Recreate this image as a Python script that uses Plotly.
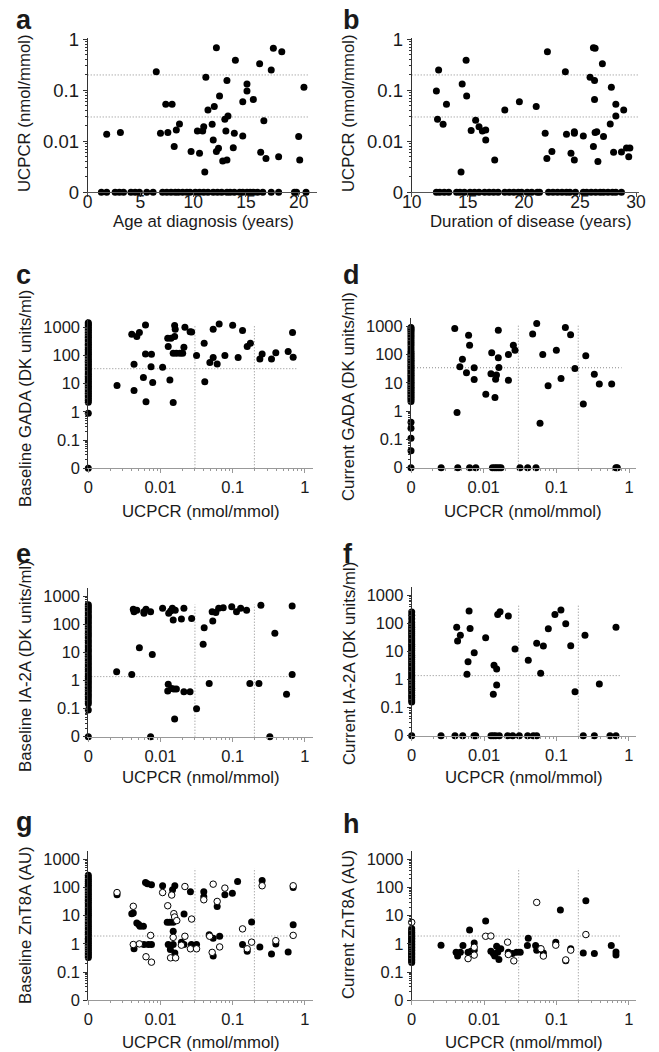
import plotly.graph_objects as go

# ---------------- data (0 = undetectable, drawn on the "0" break position) ----------------
# a: age at diagnosis vs UCPCR
A_AGE = [1.8, 3.1, 6.5, 6.9, 7.4, 7.6, 8.0, 8.2, 8.4, 8.7, 9.8, 10.4, 10.6, 10.9, 11.0, 11.1, 11.2, 11.4, 11.8, 11.9,
         12.0, 12.2, 12.2, 12.4, 12.5, 12.8, 13.0, 13.1, 13.2, 13.2, 13.3, 13.8, 13.9, 14.0, 14.7, 14.7, 15.1, 15.1, 15.7, 16.3,
         16.4, 16.7, 16.9, 17.4, 17.6, 18.1, 18.4, 20.0, 20.1, 20.5]
A_UCPCR = [0.0137, 0.0148, 0.232, 0.0144, 0.053, 0.0148, 0.053, 0.0079, 0.0167, 0.0219, 0.0063, 0.016, 0.0058, 0.016, 0.0194, 0.0025, 0.18, 0.041, 0.0215, 0.0106,
           0.048, 0.687, 0.0063, 0.0073, 0.077, 0.0041, 0.027, 0.016, 0.0043, 0.155, 0.0314, 0.0075, 0.0144, 0.39, 0.06, 0.0127, 0.097, 0.133, 0.066, 0.33,
           0.0061, 0.0254, 0.0046, 0.25, 0.667, 0.005, 0.573, 0.0124, 0.0043, 0.115]
A_AGE_UNDETECTABLE = [1.3, 1.8, 2.6, 3.0, 3.4, 4.1, 4.5, 4.9, 5.6, 6.2, 7.1, 7.5, 7.9, 8.3, 8.6, 9.0, 9.4, 9.7, 10.2, 10.6,
                      11.0, 11.4, 11.9, 12.3, 12.7, 13.2, 13.5, 13.9, 14.4, 14.7, 15.1, 15.4, 15.7, 16.1, 16.6, 17.4, 18.1, 19.6, 19.8, 20.7]

# b: duration of disease vs UCPCR
B_DUR = [12.2, 12.4, 12.3, 12.8, 13.1, 14.4, 14.5, 14.85, 14.9, 15.3, 15.7, 16.0, 16.3, 16.6, 16.6, 17.4, 18.3, 19.6, 21.1, 21.9,
         22.05, 22.1, 22.5, 23.7, 23.8, 24.2, 24.5, 24.5, 24.5, 25.3, 25.9, 26.2, 26.2, 26.35, 26.3, 26.3, 26.35, 26.5, 26.6, 27.0,
         27.1, 27.7, 27.8, 28.0, 28.2, 28.2, 28.9, 28.7, 29.15, 29.45, 29.35]
B_UCPCR = [0.097, 0.25, 0.027, 0.0215, 0.053, 0.0025, 0.133, 0.39, 0.077, 0.0162, 0.026, 0.0194, 0.016, 0.0167, 0.0106, 0.0043, 0.041, 0.06, 0.048, 0.0144,
           0.0046, 0.573, 0.0063, 0.232, 0.0137, 0.0058, 0.0144, 0.0154, 0.0043, 0.0127, 0.18, 0.0079, 0.687, 0.667, 0.155, 0.066, 0.0148, 0.0154, 0.004, 0.33,
           0.0124, 0.0219, 0.115, 0.0061, 0.053, 0.0314, 0.041, 0.0062, 0.0074, 0.0074, 0.005]
B_DUR_UNDETECTABLE = [12.2, 12.5, 12.9, 13.3, 14.0, 14.3, 14.7, 15.2, 15.6, 16.0, 16.5, 16.9, 17.3, 17.7, 18.3, 18.7, 19.1, 19.5, 19.8, 20.3,
                      20.7, 21.2, 21.4, 22.2, 22.6, 23.0, 23.4, 23.8, 24.1, 24.6, 25.3, 25.6, 26.0, 26.4, 26.8, 27.1, 27.5, 27.9, 28.2, 28.7]

# c: UCPCR vs baseline GADA
C_UCPCR = [0.0025, 0.004, 0.0043, 0.0043, 0.0047, 0.0051, 0.0058, 0.0062, 0.0063, 0.0062, 0.0074, 0.0075, 0.0078, 0.0107, 0.0126, 0.0128, 0.0135, 0.014, 0.015, 0.015,
           0.0157, 0.0157, 0.016, 0.0166, 0.0186, 0.0203, 0.0211, 0.0218, 0.0257, 0.027, 0.0316, 0.0403, 0.0411, 0.0483, 0.0537, 0.0537, 0.061, 0.065, 0.078, 0.1,
           0.119, 0.137, 0.159, 0.176, 0.238, 0.256, 0.345, 0.396, 0.587, 0.675, 0.689]
C_GADA = [8.6, 560, 5.7, 49, 470, 650, 16.4, 1200, 2.3, 113, 40, 110, 11, 38, 408, 206, 13.5, 408, 2.14, 120,
          1145, 470, 850, 120, 120, 120, 195, 1000, 700, 680, 100, 270, 11.8, 56, 84, 850, 50, 1310, 100, 1180,
          84, 760, 206, 270, 75, 113, 75, 126, 137, 650, 86]
C_GADA_AT_UCPCR0 = [0, 0.9, 2.2, 2.6, 3.0, 3.5, 4.0, 4.6, 5.3, 6.1, 7.0, 8.0, 9.2, 10.5, 12, 14, 16, 18.5, 21, 24, 28, 32, 37, 42, 48,
                    55, 63, 72, 83, 95, 110, 125, 145, 165, 190, 220, 250, 290, 330, 380, 440, 500, 580, 660, 760, 870, 1000, 1150, 1300, 1450]

# d: UCPCR vs current GADA
D_UCPCR = [0.0040, 0.0047, 0.0051, 0.0043, 0.0058, 0.0062, 0.0064, 0.0074, 0.0074, 0.0107, 0.0129, 0.0126, 0.0143, 0.0146, 0.015, 0.0159, 0.0159, 0.0162, 0.0219, 0.0219,
           0.0256, 0.027, 0.0472, 0.0537, 0.0596, 0.065, 0.077, 0.1, 0.116, 0.133, 0.157, 0.18, 0.235, 0.254, 0.333, 0.39, 0.577]
D_GADA = [830, 36.7, 68, 0.9, 22.5, 480, 214, 13, 34, 3.9, 115, 21, 3.0, 13.4, 18.7, 720, 76, 35, 12.4, 100,
          214, 142, 525, 1240, 0.37, 100, 7.8, 142, 14.2, 900, 500, 32, 1.77, 90, 20, 9, 9]
D_UCPCR_AT_GADA0 = [0.0026, 0.0044, 0.0064, 0.0078, 0.0132, 0.0142, 0.0151, 0.0162, 0.0173, 0.0316, 0.0403, 0.0525, 0.66, 0.69]
D_GADA_AT_UCPCR0 = [0, 0.04, 0.11, 0.25, 0.4, 2.2, 2.6, 3.0, 3.5, 4.0, 4.6, 5.3, 6.1, 7.0, 8.0, 9.2, 10.5, 12, 14, 16, 18.5, 21, 24,
                    28, 32, 37, 42, 48, 55, 63, 72, 83, 95, 110, 130, 160, 200, 240, 290, 350, 420, 500, 600, 700, 800, 900]

# e: UCPCR vs baseline IA-2A
E_UCPCR = [0.00247, 0.004, 0.0042, 0.0043, 0.0047, 0.0051, 0.0059, 0.0063, 0.0059, 0.0073, 0.0077, 0.0073, 0.0107, 0.0126, 0.0128, 0.013, 0.0138, 0.0142, 0.0146, 0.015,
           0.0153, 0.0157, 0.016, 0.0166, 0.0195, 0.0211, 0.0211, 0.0257, 0.027, 0.0316, 0.0403, 0.039, 0.0473, 0.052, 0.053, 0.0585, 0.064, 0.074, 0.097, 0.113,
           0.129, 0.156, 0.173, 0.231, 0.246, 0.327, 0.384, 0.557, 0.667, 0.667]
E_IA2A = [2.1, 1.68, 353, 290, 330, 15, 290, 353, 254, 290, 8.7, 0, 383, 0.43, 0.74, 254, 308, 0.53, 383, 147,
          0.51, 0.043, 330, 0.51, 160, 383, 0.40, 0.40, 168, 0.1, 78, 19.9, 0.8, 290, 135, 275, 383, 405, 440, 290,
          383, 330, 0.8, 0.8, 500, 0, 49, 0.33, 1.68, 464]
E_IA2A_AT_UCPCR0 = [0, 0.09, 0.15, 0.18, 0.22, 0.27, 0.33, 0.4, 0.48, 0.58, 0.7, 0.85, 1.0, 1.2, 1.45, 1.75, 2.1, 2.5, 3.0, 3.6, 4.3, 5.2,
                    6.2, 7.5, 9, 11, 13, 16, 19, 23, 28, 34, 41, 50, 60, 72, 87, 105, 125, 150, 180, 215, 260, 310, 370, 440, 520]

# f: UCPCR vs current IA-2A
F_UCPCR = [0.00418, 0.0043, 0.0047, 0.0058, 0.006, 0.0062, 0.0064, 0.0073, 0.0105, 0.0134, 0.0137, 0.0149, 0.0149, 0.0154, 0.0166, 0.0216, 0.0267, 0.0407, 0.0532, 0.0658,
           0.0604, 0.077, 0.095, 0.115, 0.134, 0.157, 0.18, 0.247, 0.39, 0.662]
F_IA2A = [74, 24, 39, 1.55, 4.4, 283, 68, 9.2, 31.6, 0.3, 3.3, 2.4, 0.65, 215, 268, 187, 12.4, 5, 20, 15.9,
          1.7, 66, 215, 308, 100, 16.4, 0.37, 39, 0.7, 74]
F_UCPCR_AT_IA2A0 = [0.00254, 0.00396, 0.00506, 0.00726, 0.00765, 0.01245, 0.0134, 0.01444, 0.0162, 0.0211, 0.0248, 0.0306, 0.0399,
                    0.0478, 0.0532, 0.234, 0.333, 0.547, 0.662]
F_IA2A_AT_UCPCR0 = [0, 0.16, 0.19, 0.23, 0.28, 0.34, 0.42, 0.5, 0.6, 0.72, 0.87, 1.05, 1.25, 1.5, 1.8, 2.2, 2.6, 3.1, 3.7, 4.4, 5.3,
                    6.3, 7.5, 9, 11, 13, 15.5, 18.5, 22, 26, 31, 37, 44, 52, 62, 75, 90, 110, 150, 200, 260]

# g: UCPCR vs baseline ZnT8A (filled / open circles)
G_FILLED_UCPCR = [0.0025, 0.004, 0.0042, 0.0047, 0.005, 0.0052, 0.0058, 0.0043, 0.0059, 0.0062, 0.0066, 0.0075, 0.0068, 0.0075, 0.0107, 0.0124, 0.0135, 0.015, 0.0147, 0.0158,
                  0.015, 0.0128, 0.0137, 0.015, 0.0158, 0.0195, 0.0212, 0.0212, 0.026, 0.0268, 0.0316, 0.0398, 0.0398, 0.0473, 0.0537, 0.0537, 0.061, 0.066, 0.078, 0.099,
                  0.117, 0.137, 0.159, 0.183, 0.238, 0.256, 0.345, 0.396, 0.587, 0.689, 0.689]
G_FILLED_ZNT8A = [55, 11.8, 12.4, 5.5, 4.9, 4.2, 4.2, 0.67, 0.95, 150, 135, 124, 0.95, 0.95, 115, 5.8, 5.9, 5.8, 83, 115,
                  2.8, 0.95, 0.63, 0.95, 0.48, 1.15, 11.5, 0.95, 71, 0.95, 0.95, 71, 47, 2.1, 0.37, 1.6, 21, 1.86, 55, 63,
                  163, 0.95, 0.55, 6, 0.78, 177, 0.44, 1.0, 0.52, 100, 4.8]
G_OPEN_UCPCR = [0.0025, 0.0042, 0.0042, 0.0051, 0.0063, 0.0073, 0.0075, 0.0107, 0.0126, 0.0138, 0.015, 0.0153, 0.0157, 0.0162, 0.0168, 0.0195, 0.0218, 0.0218, 0.026, 0.027,
                0.0316, 0.0398, 0.048, 0.052, 0.0537, 0.061, 0.066, 0.078, 0.137, 0.159, 0.183, 0.256, 0.396, 0.689, 0.689, 0.0143]
G_OPEN_ZNT8A = [66, 21.5, 0.95, 1.0, 0.35, 2.0, 0.225, 66, 22.5, 0.32, 1.7, 11.8, 9, 0.32, 6.7, 0.9, 1.86, 108, 0.67, 7.6,
                0.67, 36.7, 1.86, 0.5, 131, 32, 0.78, 95, 3.4, 0.67, 1.15, 115, 1.3, 115, 2.0, 54]
G_ZNT8A_AT_UCPCR0 = [0.33, 0.38, 0.44, 0.5, 0.58, 0.67, 0.77, 0.9, 1.05, 1.2, 1.4, 1.6, 1.9, 2.2, 2.6, 3.0, 3.5, 4.1, 4.8, 5.6, 6.5,
                     7.6, 8.9, 10.4, 12, 14, 16.5, 19, 22, 26, 30, 35, 41, 48, 56, 65, 76, 89, 104, 120, 140, 165, 190, 225, 270]

# h: UCPCR vs current ZnT8A (filled / open circles)
H_FILLED_UCPCR = [0.00254, 0.0041, 0.0043, 0.0047, 0.0051, 0.0063, 0.006, 0.0066, 0.0073, 0.0073, 0.0105, 0.0124, 0.0134, 0.014, 0.0149, 0.0154, 0.016, 0.017, 0.0216, 0.0246,
                  0.028, 0.0315, 0.0396, 0.0407, 0.0514, 0.0532, 0.059, 0.0658, 0.0976, 0.113, 0.134, 0.157, 0.234, 0.254, 0.333, 0.57, 0.662, 0.662]
H_FILLED_ZNT8A = [0.9, 0.51, 0.37, 0.51, 0.87, 3.1, 0.51, 0.55, 1.08, 0.6, 6.5, 0.55, 0.46, 0.37, 0.83, 0.51, 0.28, 0.67, 0.51, 0.46,
                  0.51, 0.51, 0.87, 1.6, 0.87, 0.6, 0.67, 0.48, 1.15, 16, 0.25, 0.67, 0.48, 34, 0.46, 0.87, 0.52, 0.4]
H_OPEN_UCPCR = [0.006, 0.0073, 0.0073, 0.0105, 0.0124, 0.0211, 0.0216, 0.0257, 0.0532, 0.061, 0.0658, 0.0976, 0.157, 0.254, 0.134]
H_OPEN_ZNT8A = [0.3, 0.76, 0.4, 1.86, 1.9, 1.15, 0.42, 0.25, 29.5, 0.67, 0.37, 0.9, 0.6, 2.14, 0.27]
H_FILLED_ZNT8A_AT_UCPCR0 = [0.22, 0.25, 0.28, 0.32, 0.36, 0.41, 0.46, 0.52, 0.59, 0.67, 0.76, 0.86, 0.98, 1.1, 1.25, 1.42, 1.6,
                            1.8, 2.05, 2.3, 2.6, 3.0, 3.5]
H_OPEN_ZNT8A_AT_UCPCR0 = [5.8]

# thresholds
UCPCR_CUTS = [0.03, 0.2]
GADA_CUT = 34
IA2A_CUT = 1.4
ZNT8A_CUT = 1.9

# tick labels
UCPCR_TICKS = ["0", "0.01", "0.1", "1"]
AB_TICKS = ["0", "0.1", "1", "10", "100", "1000"]
AGE_TICKS = [0, 5, 10, 15, 20]
DUR_TICKS = [10, 15, 20, 25, 30]

# ---------------- layout constants (styling / positions) ----------------
W, H = 659, 1052
FONT = "Liberation Sans, Arial, Helvetica, sans-serif"
INK = "#1a1a1a"
UC_ZERO = 0.001   # where UCPCR "0" is drawn
AB_ZERO = 0.01    # where antibody "0" is drawn
MS = 7

def fx(p):
    return p / W

def fy(p):
    return 1 - p / H

def zx(vals, z):
    return [v if v > 0 else z for v in vals]

fig = go.Figure()

# panel geometry: (x px left,right), (y px bottom,top), xrange, yrange
GEOM = {
    1: ((87.7, 316.6), (192.3, 38.3), [0, 21.7], [-3, 0.02]),
    2: ((411.7, 639.4), (192.3, 38.3), [10, 30.3], [-3, 0.02]),
    3: ((88.3, 312.8), (468.3, 318.8), [-3, 0.11], [-2, 3.3]),
    4: ((411.0, 636.3), (467.7, 317.7), [-3, 0.1], [-2, 3.3]),
    5: ((88.3, 312.8), (736.7, 588.3), [-3, 0.11], [-2, 3.3]),
    6: ((411.7, 636.2), (735.7, 587.3), [-3, 0.1], [-2, 3.3]),
    7: ((88.3, 312.8), (1000.3, 850.8), [-3, 0.11], [-2, 3.3]),
    8: ((411.7, 636.2), (1000.3, 850.8), [-3, 0.1], [-2, 3.3]),
}

def minor_vals(decades):
    out = []
    for d in decades:
        for m in range(2, 10):
            out.append(m * d)
    return out

UC_MINOR = minor_vals([0.001, 0.01, 0.1])
AB_MINOR = minor_vals([0.01, 0.1, 1, 10, 100])

layout_axes = {}
for i, (xd, yd, xr, yr) in GEOM.items():
    xs = "" if i == 1 else str(i)
    big = i <= 2
    tfs = 18.5 if big else 16.5
    xa = dict(domain=[fx(xd[0]), fx(xd[1])], range=xr, anchor="y" + xs, showgrid=False, zeroline=False,
              automargin=False,
              showline=True, linecolor="#555" if big else "#999", linewidth=1, ticks="outside", ticklen=4,
              tickcolor="#555" if big else "#999", tickfont=dict(family=FONT, size=tfs, color=INK))
    ya = dict(domain=[fy(yd[0]), fy(yd[1])], range=yr, anchor="x" + xs, type="log", showgrid=False, zeroline=False,
              automargin=False,
              showline=True, linecolor="#333", linewidth=1, ticks="outside", ticklen=4, tickcolor="#333",
              tickfont=dict(family=FONT, size=tfs, color=INK))
    if i == 1:
        xa.update(tickvals=AGE_TICKS, ticktext=[str(t) for t in AGE_TICKS], ticklabelstandoff=-10,
                  tickfont=dict(family=FONT, size=17.5, color=INK))
    elif i == 2:
        xa.update(tickvals=DUR_TICKS, ticktext=[str(t) for t in DUR_TICKS], ticklabelstandoff=-10,
                  tickfont=dict(family=FONT, size=17.5, color=INK))
    else:
        xa.update(type="log", tickvals=[0.001, 0.01, 0.1, 1], ticktext=UCPCR_TICKS,
                  minor=dict(tickvals=UC_MINOR, ticks="outside", ticklen=2, tickcolor="#999"))
    if big:
        ya.update(tickvals=[0.001, 0.01, 0.1, 1], ticktext=UCPCR_TICKS,
                  minor=dict(tickvals=UC_MINOR, ticks="outside", ticklen=2, tickcolor="#333"))
    else:
        ya.update(tickvals=[0.01, 0.1, 1, 10, 100, 1000], ticktext=AB_TICKS,
                  minor=dict(tickvals=AB_MINOR, ticks="outside", ticklen=2, tickcolor="#333"))
    layout_axes["xaxis" + xs] = xa
    layout_axes["yaxis" + xs] = ya

REF = dict(color="#8a8a8a", width=1, dash="1px,2px")

def ref_line(i, xs, ys):
    s = "" if i == 1 else str(i)
    fig.add_trace(go.Scatter(x=xs, y=ys, mode="lines", line=REF, xaxis="x" + s, yaxis="y" + s,
                             hoverinfo="skip", showlegend=False, cliponaxis=False))

def dots(i, xs, ys, filled=True):
    s = "" if i == 1 else str(i)
    if filled:
        mk = dict(size=MS, color="black", line=dict(width=0))
    else:
        mk = dict(size=MS - 0.5, color="white", line=dict(width=1, color="black"))
    fig.add_trace(go.Scatter(x=xs, y=ys, mode="markers", marker=mk, xaxis="x" + s, yaxis="y" + s,
                             showlegend=False, cliponaxis=False))

# reference lines
for c in UCPCR_CUTS:
    ref_line(1, [0, 21.0], [c, c])
    ref_line(2, [10, 30.3], [c, c])
V_TOP = {3: 1200, 4: 1100, 5: 530, 6: 490, 7: 480, 8: 480}
H_END = {3: 0.81, 4: 0.79, 5: 0.73, 6: 0.79, 7: 0.81, 8: 0.79}
H_CUT = {3: GADA_CUT, 4: GADA_CUT, 5: IA2A_CUT, 6: IA2A_CUT, 7: ZNT8A_CUT, 8: ZNT8A_CUT}
for i in range(3, 9):
    for c in UCPCR_CUTS:
        ref_line(i, [c, c], [AB_ZERO, V_TOP[i]])
    ref_line(i, [UC_ZERO, H_END[i]], [H_CUT[i], H_CUT[i]])

# a
dots(1, A_AGE + A_AGE_UNDETECTABLE, zx(A_UCPCR + [0] * len(A_AGE_UNDETECTABLE), UC_ZERO))
# b
dots(2, B_DUR + B_DUR_UNDETECTABLE, zx(B_UCPCR + [0] * len(B_DUR_UNDETECTABLE), UC_ZERO))
# c
dots(3, zx(C_UCPCR + [0] * len(C_GADA_AT_UCPCR0), UC_ZERO), zx(C_GADA + C_GADA_AT_UCPCR0, AB_ZERO))
# d
dots(4, zx(D_UCPCR + D_UCPCR_AT_GADA0 + [0] * len(D_GADA_AT_UCPCR0), UC_ZERO),
     zx(D_GADA + [0] * len(D_UCPCR_AT_GADA0) + D_GADA_AT_UCPCR0, AB_ZERO))
# e
dots(5, zx(E_UCPCR + [0] * len(E_IA2A_AT_UCPCR0), UC_ZERO), zx(E_IA2A + E_IA2A_AT_UCPCR0, AB_ZERO))
# f
dots(6, zx(F_UCPCR + F_UCPCR_AT_IA2A0 + [0] * len(F_IA2A_AT_UCPCR0), UC_ZERO),
     zx(F_IA2A + [0] * len(F_UCPCR_AT_IA2A0) + F_IA2A_AT_UCPCR0, AB_ZERO))
# g
dots(7, zx(G_FILLED_UCPCR + [0] * len(G_ZNT8A_AT_UCPCR0), UC_ZERO), zx(G_FILLED_ZNT8A + G_ZNT8A_AT_UCPCR0, AB_ZERO))
dots(7, G_OPEN_UCPCR, G_OPEN_ZNT8A, filled=False)
# h
dots(8, zx(H_FILLED_UCPCR + [0] * len(H_FILLED_ZNT8A_AT_UCPCR0), UC_ZERO),
     zx(H_FILLED_ZNT8A + H_FILLED_ZNT8A_AT_UCPCR0, AB_ZERO))
dots(8, zx(H_OPEN_UCPCR + [0] * len(H_OPEN_ZNT8A_AT_UCPCR0), UC_ZERO), H_OPEN_ZNT8A + H_OPEN_ZNT8A_AT_UCPCR0, filled=False)

# ---------------- text ----------------
ann = []
def text(t, x, y, size, angle=0, bold=False, xanchor="center"):
    ann.append(dict(text=("<b>%s</b>" % t) if bold else t, x=fx(x), y=fy(y), xref="paper", yref="paper",
                    xanchor=xanchor, yanchor="middle", showarrow=False, textangle=angle,
                    font=dict(family=FONT, size=size, color=INK)))

LETTERS = [("a", 14, 20), ("b", 341, 20), ("c", 14, 275), ("d", 341, 275),
           ("e", 14, 554), ("f", 341, 554), ("g", 14, 822), ("h", 341, 824)]
for l, x, y in LETTERS:
    text(l, x, y, 27, bold=True, xanchor="left")

TS = 16.8
text("UCPCR (nmol/mmol)", 25, 113, TS, angle=-90)
text("Age at diagnosis (years)", 203, 222, TS)
text("UCPCR (nmol/mmol)", 349, 113, TS, angle=-90)
text("Duration of disease (years)", 530, 222, TS)
text("Baseline GADA (DK units/ml)", 25, 399, TS, angle=-90)
text("Current GADA (DK units/ml)", 349, 397, TS, angle=-90)
text("Baseline IA-2A (DK units/ml)", 25, 666, TS, angle=-90)
text("Current IA-2A (DK units/ml)", 349, 664, TS, angle=-90)
text("Baseline ZnT8A (AU)", 25, 925, TS, angle=-90)
text("Current ZnT8A (AU)", 348, 925, TS, angle=-90)
for (x, y) in [(201, 511), (523, 511), (201, 777), (524, 777), (201, 1042), (524, 1042)]:
    text("UCPCR (nmol/mmol)", x, y, TS)

fig.update_layout(template="none", width=W, height=H, margin=dict(l=0, r=0, t=0, b=0, autoexpand=False),
                  paper_bgcolor="white", plot_bgcolor="white", showlegend=False, annotations=ann, **layout_axes)

fig.write_html("out.html", config={"displayModeBar": False},
               post_script="document.documentElement.style.margin='0';document.body.style.margin='0';"
                           "document.body.style.padding='0';document.body.style.overflow='hidden';")
